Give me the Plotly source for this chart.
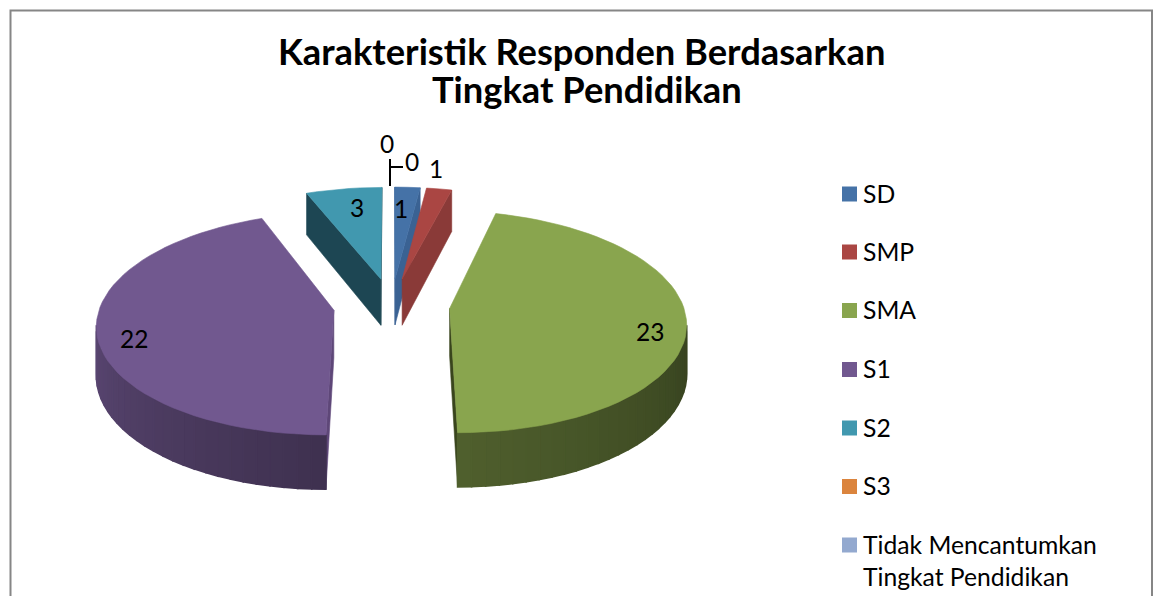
import math
import plotly.graph_objects as go

categories = ["SD", "SMP", "SMA", "S1", "S2", "S3", "Tidak Mencantumkan<br>Tingkat Pendidikan"]
values = [1, 1, 23, 22, 3, 0, 0]
colors = ["#4572A7", "#AA4643", "#89A54E", "#71588F", "#4198AF", "#DB843D", "#93A9CF"]
face_colors = ["#3A6293", "#8A3A38", "#39451D", "#5E4778", "#1D4653", "#DB843D", "#93A9CF"]
wall_shade = [(0.6, 0.6), (0.6, 0.6), (0.38, 0.58), (0.56, 0.82), (0.4, 0.4), (0.6, 0.6), (0.6, 0.6)]

# Projection of the tilted pie onto the page
CX, CY, RX, RY, PERSP, DEPTH, EXPLODE = 391.5, 305, 233.5, 108.5, 0.12, 47.5, 0.25
FONT = "Lato"


def project(px, py, drop=0.0):
    w = 1 + PERSP * py
    return CX + RX * px / w, CY - RY * py / w + drop / w


def shade(col, f):
    r, g, b = (int(col[i:i + 2], 16) for i in (1, 3, 5))
    return f"rgb({r * f:.0f},{g * f:.0f},{b * f:.0f})"


def area(pts):
    return sum(pts[i][0] * pts[(i + 1) % len(pts)][1] - pts[(i + 1) % len(pts)][0] * pts[i][1]
               for i in range(len(pts)))


def poly(pts, col, name, width=0.6):
    xs = [p[0] for p in pts] + [pts[0][0]]
    ys = [p[1] for p in pts] + [pts[0][1]]
    return go.Scatter(x=xs, y=ys, mode="lines", fill="toself", fillcolor=col, name=name,
                      line=dict(color=col, width=width), hoverinfo="name", showlegend=False)


fig = go.Figure()
total = sum(values)
spans = []
a = 0.0
for v in values:
    spans.append((a, a + 360.0 * v / total))
    a += 360.0 * v / total

# far slices first
order = [i for i in range(len(values)) if values[i] > 0]
order.sort(key=lambda i: -math.cos(math.radians(sum(spans[i]) / 2)))

for i in order:
    t0, t1 = spans[i]
    mid = math.radians((t0 + t1) / 2)
    ox, oy = EXPLODE * math.sin(mid), EXPLODE * math.cos(mid)
    n = max(2, int((t1 - t0) / 3))
    angs = [t0 + (t1 - t0) * k / n for k in range(n + 1)]
    rim = [(ox + math.sin(math.radians(t)), oy + math.cos(math.radians(t))) for t in angs]
    apex = (ox, oy)

    def quad(p, q):
        return [project(*p), project(*q), project(*q, DEPTH), project(*p, DEPTH)]

    for p, q in ((apex, rim[0]), (rim[-1], apex)):
        pts = quad(p, q)
        if area(pts) < 0:
            fig.add_trace(poly(pts, face_colors[i], categories[i]))
    lo, hi = wall_shade[i]
    for k in range(n):
        pts = quad(rim[k], rim[k + 1])
        if area(pts) < 0:
            # shading steps along the visible rim
            if i == 2:
                f = lo + (hi - lo) * (angs[k] - 90) / 90
            elif i == 3:
                f = lo + (hi - lo) * (angs[k] - 180) / 90
            else:
                f = lo
            fig.add_trace(poly(pts, shade(colors[i], f), categories[i], width=1.6))
    fig.add_trace(poly([project(*apex)] + [project(*r) for r in rim], colors[i], categories[i]))

# leader lines of the zero-value labels
fig.add_trace(go.Scatter(x=[390, 390, None, 390, 403], y=[159, 186, None, 167, 167], mode="lines",
                         line=dict(color="#000000", width=2), hoverinfo="skip", showlegend=False))

# legend swatches
legend_y = [194, 252, 310.5, 369.5, 428, 486.5, 545]
fig.add_trace(go.Scatter(x=[849.5] * len(categories), y=legend_y, mode="markers",
                         marker=dict(symbol="square", size=15, color=colors, line=dict(width=0)),
                         text=categories, hoverinfo="text", showlegend=False))

annotations = []
label_pos = {0: (401, 208), 1: (436, 168), 2: (650, 331), 3: (134, 338), 4: (357, 207), 5: (412, 161), 6: (387, 143)}
for i, (lx, ly) in label_pos.items():
    annotations.append(dict(x=lx, y=ly, text=str(values[i]), showarrow=False, xref="x", yref="y",
                            font=dict(family=FONT, size=24.5, color="#000000")))
for c, y in zip(categories, legend_y):
    lines = c.count("<br>")
    annotations.append(dict(x=861, y=y - 1 + 16 * lines, text=c, showarrow=False, xref="x", yref="y",
                            xanchor="left", yanchor="middle", align="left",
                            font=dict(family=FONT, size=24.7, color="#000000")))
annotations.append(dict(x=581.5, y=51, text="<b>Karakteristik Responden Berdasarkan</b>", showarrow=False,
                        xref="x", yref="y", font=dict(family=FONT, size=36.3, color="#000000")))
annotations.append(dict(x=587, y=89, text="<b>Tingkat Pendidikan</b>", showarrow=False,
                        xref="x", yref="y", font=dict(family=FONT, size=36.3, color="#000000")))

fig.update_layout(
    width=1154, height=596, margin=dict(l=0, r=0, t=0, b=0),
    paper_bgcolor="#FFFFFF", plot_bgcolor="#FFFFFF", showlegend=False,
    xaxis=dict(range=[0, 1154], visible=False, fixedrange=True),
    yaxis=dict(range=[596, 0], visible=False, fixedrange=True),
    annotations=annotations,
    shapes=[dict(type="rect", xref="x", yref="y", x0=10.5, y0=10.5, x1=1152, y1=640,
                 line=dict(color="#868686", width=2), layer="below")],
)
fig.write_html("out.html", config=dict(displayModeBar=False), post_script="document.body.style.margin='0';")
